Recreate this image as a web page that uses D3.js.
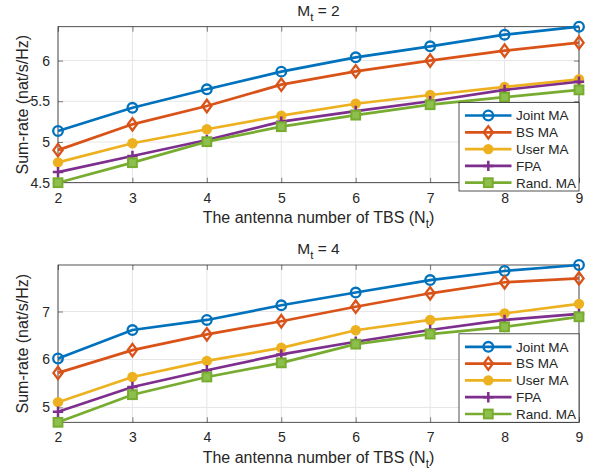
<!DOCTYPE html>
<html>
<head>
<meta charset="utf-8">
<script src="https://cdn.jsdelivr.net/npm/d3@7"></script>
<style>
  body { margin: 0; background: #fff; }
  svg text { font-family: "Liberation Sans", Arial, sans-serif; fill: #262626; }
</style>
</head>
<body>
<svg id="chart" width="598" height="474"></svg>
<script>
// antenna numbers on the x axis
const antennas = [2, 3, 4, 5, 6, 7, 8, 9];
const seriesNames = ['Joint MA', 'BS MA', 'User MA', 'FPA', 'Rand. MA'];

// M_t = 2
const jointMt2 = [5.135, 5.42, 5.647, 5.864, 6.04, 6.175, 6.318, 6.416];
const bsMt2    = [4.90, 5.217, 5.442, 5.704, 5.868, 6.0, 6.122, 6.22];
const userMt2  = [4.75, 4.984, 5.156, 5.323, 5.47, 5.577, 5.676, 5.77];
const fpaMt2   = [4.63, 4.828, 5.025, 5.25, 5.38, 5.50, 5.64, 5.74];
const randMt2  = [4.50, 4.746, 5.004, 5.188, 5.33, 5.458, 5.55, 5.64];

// M_t = 4
const jointMt4 = [6.02, 6.614, 6.824, 7.13, 7.396, 7.656, 7.845, 7.97];
const bsMt4    = [5.72, 6.195, 6.524, 6.797, 7.10, 7.38, 7.61, 7.69];
const userMt4  = [5.11, 5.635, 5.97, 6.243, 6.61, 6.824, 6.96, 7.16];
const fpaMt4   = [4.91, 5.425, 5.776, 6.105, 6.37, 6.614, 6.824, 6.95];
const randMt4  = [4.69, 5.266, 5.635, 5.93, 6.32, 6.53, 6.68, 6.89];

const yTicksMt2 = [4.5, 5, 5.5, 6];
const yTicksMt4 = [5, 6, 7];

const colors = ['#0072BD', '#D95319', '#EDB120', '#7E2F8E', '#77AC30'];
const markers = ['circle', 'diamond', 'dot', 'plus', 'square'];

const svg = d3.select('#chart');
const left = 58, right = 579;

function drawMarker(g, type, color) {
  if (type === 'circle') {
    g.append('circle').attr('r', 4.8).attr('fill', 'none').attr('stroke', color).attr('stroke-width', 2.3);
  } else if (type === 'diamond') {
    g.append('path').attr('d', 'M0,-6.2L4.6,0L0,6.2L-4.6,0Z').attr('fill', 'none').attr('stroke', color).attr('stroke-width', 2.3);
  } else if (type === 'dot') {
    g.append('circle').attr('r', 5.2).attr('fill', color);
  } else if (type === 'plus') {
    g.append('path').attr('d', 'M-5.2,0H5.2M0,-5.2V5.2').attr('stroke', color).attr('stroke-width', 2.5);
  } else if (type === 'square') {
    g.append('rect').attr('x', -4.4).attr('y', -4.4).attr('width', 8.8).attr('height', 8.8)
      .attr('fill', '#8cbf4c').attr('stroke', color).attr('stroke-width', 2);
  }
}

function drawPanel(opts) {
  const { top, bottom, series, yTicks, title, legendTop } = opts;
  const g = svg.append('g');

  const x = d3.scaleLinear().domain(d3.extent(antennas)).range([left, right]);
  const y = d3.scaleLinear().domain(d3.extent(series.flat())).range([bottom, top]);

  // grid
  g.append('g').selectAll('line').data(antennas).join('line')
    .attr('x1', d => x(d)).attr('x2', d => x(d)).attr('y1', top).attr('y2', bottom)
    .attr('stroke', '#e6e6e6').attr('stroke-width', 1);
  g.append('g').selectAll('line').data(yTicks).join('line')
    .attr('x1', left).attr('x2', right).attr('y1', d => y(d)).attr('y2', d => y(d))
    .attr('stroke', '#e6e6e6').attr('stroke-width', 1);

  // axes via d3.axis, ticks pointing inward
  const xAxis = d3.axisBottom(x).tickValues(antennas).tickFormat(d3.format('d')).tickSizeInner(-5).tickSizeOuter(0).tickPadding(10);
  const yAxis = d3.axisLeft(y).tickValues(yTicks).tickFormat(d => String(d)).tickSizeInner(-5).tickSizeOuter(0).tickPadding(8);

  const gx = g.append('g').attr('transform', `translate(0,${bottom})`).call(xAxis);
  const gy = g.append('g').attr('transform', `translate(${left},0)`).call(yAxis);
  const gxt = g.append('g').attr('transform', `translate(0,${top})`).call(d3.axisTop(x).tickValues(antennas).tickFormat('').tickSizeInner(-5).tickSizeOuter(0));
  const gyr = g.append('g').attr('transform', `translate(${right},0)`).call(d3.axisRight(y).tickValues(yTicks).tickFormat('').tickSizeInner(-5).tickSizeOuter(0));
  [gx, gy, gxt, gyr].forEach(a => {
    a.select('.domain').remove();
    a.selectAll('line').attr('stroke', '#262626').attr('stroke-width', 0.6);
    a.selectAll('text').attr('font-size', 14).attr('fill', '#262626')
      .style('font-family', '"Liberation Sans", Arial, sans-serif');
  });

  g.append('rect').attr('x', left).attr('y', top).attr('width', right - left).attr('height', bottom - top)
    .attr('fill', 'none').attr('stroke', '#262626').attr('stroke-width', 0.8);

  // series
  const line = d3.line().x((d, i) => x(antennas[i])).y(d => y(d));
  series.forEach((vals, si) => {
    g.append('path').datum(vals).attr('d', line)
      .attr('fill', 'none').attr('stroke', colors[si]).attr('stroke-width', 2.7);
    vals.forEach((v, i) => {
      const m = g.append('g').attr('transform', `translate(${x(antennas[i])},${y(v)})`);
      drawMarker(m, markers[si], colors[si]);
    });
  });

  // title
  const t = g.append('text').attr('x', (left + right) / 2).attr('y', top - 11)
    .attr('text-anchor', 'middle').attr('font-size', 15.5);
  t.append('tspan').text('M');
  t.append('tspan').attr('dy', 5).attr('font-size', 11.5).text('t');
  t.append('tspan').attr('dy', -5).text(' = ' + title);

  // x label
  const xl = g.append('text').attr('x', (left + right) / 2).attr('y', bottom + 40.5)
    .attr('text-anchor', 'middle').attr('font-size', 16);
  xl.append('tspan').text('The antenna number of TBS (N');
  xl.append('tspan').attr('dy', 5).attr('font-size', 12).text('t');
  xl.append('tspan').attr('dy', -5).text(')');

  // y label
  g.append('text').attr('transform', `translate(28,${(top + bottom) / 2}) rotate(-90)`)
    .attr('text-anchor', 'middle').attr('font-size', 16).text('Sum-rate (nat/s/Hz)');

  // legend
  const lg = g.append('g').attr('transform', `translate(459,${legendTop})`);
  lg.append('rect').attr('width', 120).attr('height', 88.5).attr('fill', '#fff')
    .attr('stroke', '#262626').attr('stroke-width', 0.8);
  seriesNames.forEach((name, si) => {
    const row = lg.append('g').attr('transform', `translate(0,${13 + si * 16.8})`);
    row.append('line').attr('x1', 6).attr('x2', 52.5).attr('stroke', colors[si]).attr('stroke-width', 2.7);
    const m = row.append('g').attr('transform', 'translate(29.3,0)');
    drawMarker(m, markers[si], colors[si]);
    row.append('text').attr('x', 57).attr('y', 4.8).attr('font-size', 13.5).text(name);
  });
}

drawPanel({
  top: 26.7, bottom: 182.7, title: '2', legendTop: 102.5,
  series: [jointMt2, bsMt2, userMt2, fpaMt2, randMt2], yTicks: yTicksMt2
});
drawPanel({
  top: 265, bottom: 422.3, title: '4', legendTop: 333.8,
  series: [jointMt4, bsMt4, userMt4, fpaMt4, randMt4], yTicks: yTicksMt4
});
</script>
</body>
</html>
